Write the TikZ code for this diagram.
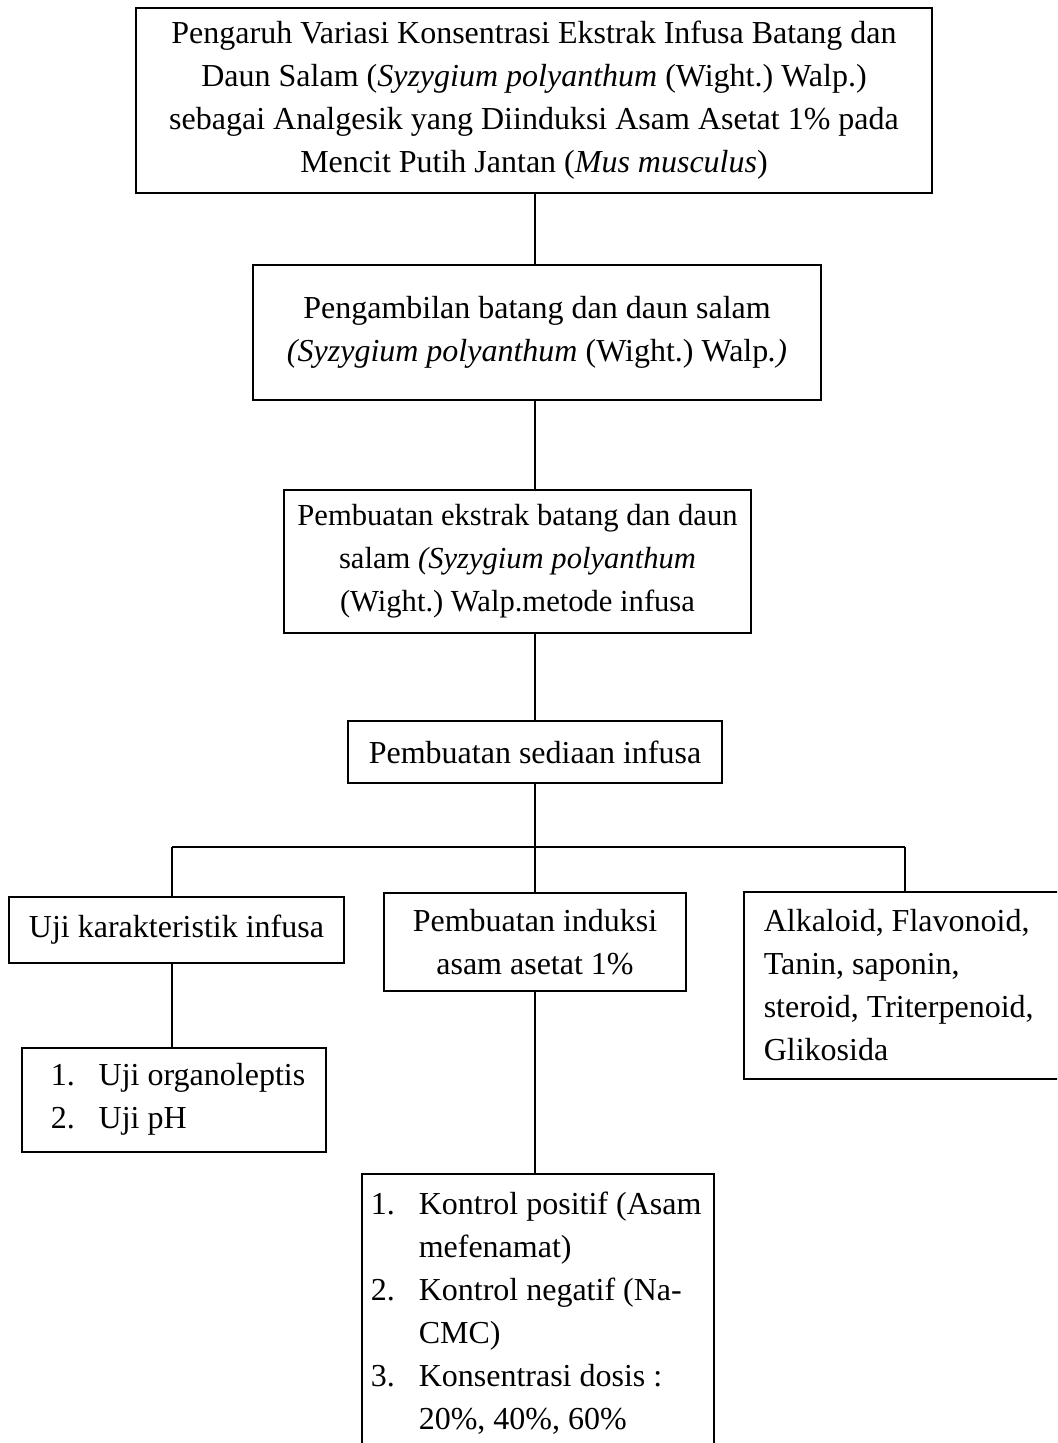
\documentclass[tikz,border=0pt]{standalone}
\usepackage{fontspec}
\setmainfont{Liberation Serif}
\frenchspacing
\usetikzlibrary{positioning}

\newcommand{\nomor}[1]{\makebox[24pt][l]{#1}}
\newcommand{\sambung}{\hspace*{24pt}}

\begin{document}
\begin{tikzpicture}[x=0.5pt, y=-0.5pt]
\clip (0, 0) rectangle (1057, 1443);
\begin{scope}[every node/.style={rectangle, draw, line width=0.75pt, fill=white,
                                 font=\fontsize{16}{21.5}\selectfont, inner sep=0pt}]
    \node (judul) at (534, 100.5) [minimum width=398pt, minimum height=92.5pt, align=center]
        {Pengaruh Variasi Konsentrasi Ekstrak Infusa Batang dan\\
         Daun Salam (\textit{Syzygium polyanthum} (Wight.) Walp.)\\
         sebagai Analgesik yang Diinduksi Asam Asetat 1\% pada\\
         Mencit Putih Jantan (\textit{Mus musculus})};

    \node (ambil) at (537, 332.5) [minimum width=284pt, minimum height=67.5pt, align=center]
        {Pengambilan batang dan daun salam\\
         \textit{(Syzygium polyanthum} (Wight.) Walp\textit{.)}};

    \node (ekstrak) at (517.5, 561.5) [minimum width=233.5pt, minimum height=71.5pt, align=center,
                                       font=\fontsize{15.3}{21.5}\selectfont]
        {Pembuatan ekstrak batang dan daun\\
         salam \textit{(Syzygium polyanthum}\\
         (Wight.) Walp.metode infusa};

    \node (infusa) at (535, 752) [minimum width=187pt, minimum height=31pt, align=center]
        {Pembuatan sediaan infusa};

    \node (uji) at (176.5, 930) [minimum width=167.5pt, minimum height=33pt, align=center]
        {Uji karakteristik infusa};

    \node (induksi) at (535, 942) [minimum width=151pt, minimum height=49pt, align=center]
        {Pembuatan induksi\\ asam asetat 1\%};

    \node (senyawa) at (743, 891) [anchor=north west, minimum height=93.5pt,
                                   align=flush left, text width=180pt]
        {\hspace*{10pt}Alkaloid, Flavonoid,\\ \hspace*{10pt}Tanin, saponin,\\
         \hspace*{10pt}steroid, Triterpenoid,\\ \hspace*{10pt}Glikosida};

    \node (organo) at (21, 1047) [anchor=north west, minimum height=52pt,
                                  align=flush left, text width=152pt]
        {\hspace*{14.5pt}\nomor{1.}Uji organoleptis\\ \hspace*{14.5pt}\nomor{2.}Uji pH};

    \node (kontrol) at (361, 1173) [anchor=north west, align=flush left,
                                    inner ysep=9pt, text width=176pt]
        {\hspace*{4.5pt}\nomor{1.}Kontrol positif (Asam\\ \hspace*{4.5pt}\sambung mefenamat)\\
         \hspace*{4.5pt}\nomor{2.}Kontrol negatif (Na-\\ \hspace*{4.5pt}\sambung CMC)\\
         \hspace*{4.5pt}\nomor{3.}Konsentrasi dosis :\\ \hspace*{4.5pt}\sambung 20\%, 40\%, 60\%\\[4pt]};
\end{scope}

\coordinate (spine) at (535, 0);
\coordinate (cabang) at (535, 847);
\coordinate (kiri) at (172, 847);
\coordinate (kanan) at (905, 847);

\begin{scope}[every edge/.style={draw=black, line width=0.75pt}]
    \path (judul.south -| spine) edge (ambil.north -| spine);
    \path (ambil.south -| spine) edge (ekstrak.north -| spine);
    \path (ekstrak.south -| spine) edge (infusa.north -| spine);
    \path (infusa.south -| spine) edge (cabang);
    \path (kiri) edge (kanan);
    \path (kiri) edge (uji.north -| kiri);
    \path (cabang) edge (induksi.north -| spine);
    \path (kanan) edge (senyawa.north -| kanan);
    \path (uji.south -| kiri) edge (organo.north -| kiri);
    \path (induksi.south -| spine) edge (kontrol.north -| spine);
\end{scope}
\end{tikzpicture}
\end{document}
